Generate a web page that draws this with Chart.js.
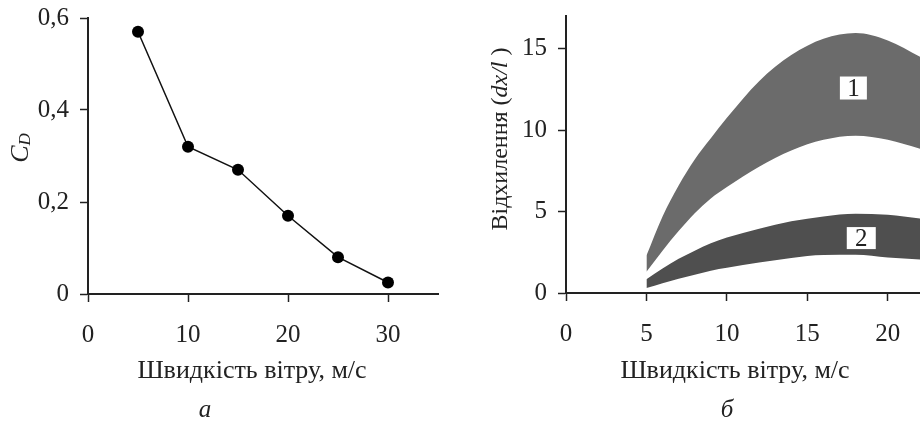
<!DOCTYPE html>
<html>
<head>
<meta charset="utf-8">
<script src="https://cdn.jsdelivr.net/npm/chart.js@4.4.1/dist/chart.umd.min.js"></script>
<style>
  html, body { margin: 0; padding: 0; background: #fff; overflow: hidden; }
  #wrap { position: relative; width: 920px; height: 421px; }
  canvas { position: absolute; top: 0; }
  #dragChart { left: 0; }
  #deflChart { left: 460px; }
</style>
</head>
<body>
<div id="wrap">
  <canvas id="dragChart" width="460" height="421"></canvas>
  <canvas id="deflChart" width="460" height="421"></canvas>
</div>
<script>
// chart "а": drag coefficient vs wind speed
const speedA = [5, 10, 15, 20, 25, 30];
const dragCoef = [0.57, 0.32, 0.27, 0.17, 0.08, 0.025];

// chart "б": deflection bands vs wind speed
const speedB = [5, 6, 7, 8, 9, 10, 12, 14, 16, 18, 20, 22];
const band1Upper = [2.3, 4.7, 6.6, 8.2, 9.5, 10.75, 13.0, 14.6, 15.6, 15.95, 15.5, 14.5];
const band1Lower = [1.3, 2.6, 3.8, 4.9, 5.8, 6.5, 7.75, 8.75, 9.4, 9.65, 9.4, 8.85];
const band2Upper = [0.85, 1.5, 2.1, 2.6, 3.05, 3.4, 3.95, 4.4, 4.7, 4.86, 4.8, 4.57];
const band2Lower = [0.3, 0.6, 0.88, 1.12, 1.37, 1.55, 1.87, 2.15, 2.33, 2.34, 2.18, 2.06];

const xTicksA = [0, 10, 20, 30];
const yTicksA = [0, 0.2, 0.4, 0.6];
const xTicksB = [0, 5, 10, 15, 20];
const yTicksB = [0, 5, 10, 15];

const xTitle = 'Швидкість вітру, м/с';
const bandLabels = [
  { text: '1', x: 17.86, y: 12.58, w: 27, h: 23 },
  { text: '2', x: 18.35, y: 3.37, w: 29, h: 22 }
];

const FONT = "'Liberation Serif', 'Times New Roman', serif";
const INK = '#222';

Chart.defaults.font.family = FONT;
Chart.defaults.font.size = 25;
Chart.defaults.color = INK;

const toPoints = (xs, ys) => xs.map((x, i) => ({ x: x, y: ys[i] }));

// axis look shared by both charts: only ticks, no grid lines
function axis(extra) {
  return Object.assign({
    type: 'linear',
    border: { display: true, color: INK, width: 2 },
    grid: { display: true, drawOnChartArea: false, drawTicks: true, tickLength: 8, tickWidth: 1.5, tickColor: INK },
  }, extra);
}

// keep the plot area exactly where layout.padding puts it
function noPad(s) {
  s.paddingTop = 0; s.paddingBottom = 0; s.paddingLeft = 0; s.paddingRight = 0;
}

// draws text runs (possibly mixed fonts) centred at a point, optionally rotated
function drawRuns(ctx, runs, cx, cy, rotate, baseline) {
  ctx.save();
  ctx.translate(cx, cy);
  if (rotate) ctx.rotate(-Math.PI / 2);
  ctx.fillStyle = INK;
  ctx.textAlign = 'left';
  ctx.textBaseline = baseline || 'middle';
  let total = 0;
  runs.forEach(r => { ctx.font = r.font; r.w = ctx.measureText(r.text).width; total += r.w; });
  let x = -total / 2;
  runs.forEach(r => {
    ctx.font = r.font;
    ctx.fillText(r.text, x, r.dy || 0);
    x += r.w;
  });
  ctx.restore();
}

const textA = {
  id: 'textA',
  afterDraw(chart) {
    const ctx = chart.ctx;
    drawRuns(ctx, [{ text: xTitle, font: '26px ' + FONT }], 252, 378, false, 'alphabetic');
    drawRuns(ctx, [{ text: 'а', font: 'italic 25px ' + FONT }], 205, 417, false, 'alphabetic');
    drawRuns(ctx, [
      { text: 'C', font: 'italic 26px ' + FONT },
      { text: 'D', font: 'italic 17px ' + FONT, dy: 5 }
    ], 21, 148, true);
  }
};

const textB = {
  id: 'textB',
  afterDatasetsDraw(chart) {
    const ctx = chart.ctx;
    const xs = chart.scales.x, ys = chart.scales.y;
    bandLabels.forEach(b => {
      const px = xs.getPixelForValue(b.x), py = ys.getPixelForValue(b.y);
      ctx.save();
      ctx.fillStyle = '#fff';
      ctx.fillRect(px - b.w / 2, py - b.h / 2, b.w, b.h);
      ctx.fillStyle = INK;
      ctx.font = '25px ' + FONT;
      ctx.textAlign = 'center';
      ctx.textBaseline = 'middle';
      ctx.fillText(b.text, px, py + 1);
      ctx.restore();
    });
  },
  afterDraw(chart) {
    const ctx = chart.ctx;
    drawRuns(ctx, [{ text: xTitle, font: '26px ' + FONT }], 275, 378, false, 'alphabetic');
    drawRuns(ctx, [{ text: 'б', font: 'italic 25px ' + FONT }], 267, 417, false, 'alphabetic');
    drawRuns(ctx, [
      { text: 'Відхилення (', font: '24px ' + FONT },
      { text: 'dx/l', font: 'italic 24px ' + FONT },
      { text: ' )', font: '24px ' + FONT }
    ], 41, 139, true);
  }
};

new Chart(document.getElementById('dragChart'), {
  type: 'scatter',
  data: {
    datasets: [{
      data: toPoints(speedA, dragCoef),
      showLine: true,
      borderColor: '#111',
      borderWidth: 1.5,
      pointRadius: 6,
      pointBackgroundColor: '#000',
      pointBorderColor: '#000',
      pointBorderWidth: 0
    }]
  },
  options: {
    responsive: false,
    animation: false,
    devicePixelRatio: 1,
    layout: { padding: { top: 18, right: 22, left: 0, bottom: 0 } },
    plugins: { legend: { display: false }, tooltip: { enabled: false } },
    scales: {
      x: axis({
        min: 0, max: 35,
        afterBuildTicks: s => { s.ticks = xTicksA.map(v => ({ value: v })); },
        ticks: { padding: 18, maxRotation: 0, callback: v => String(v) },
        afterFit: s => { s.height = 127; noPad(s); }
      }),
      y: axis({
        min: 0, max: 0.6,
        afterBuildTicks: s => { s.ticks = yTicksA.map(v => ({ value: v })); },
        ticks: { padding: 11, callback: v => v === 0 ? '0' : v.toFixed(1).replace('.', ',') },
        afterFit: s => { s.width = 88; noPad(s); }
      })
    }
  },
  plugins: [textA]
});

new Chart(document.getElementById('deflChart'), {
  type: 'scatter',
  data: {
    datasets: [
      { data: toPoints(speedB, band1Upper), fill: '+1', backgroundColor: '#6b6b6b' },
      { data: toPoints(speedB, band1Lower), fill: false },
      { data: toPoints(speedB, band2Upper), fill: '+1', backgroundColor: '#4f4f4f' },
      { data: toPoints(speedB, band2Lower), fill: false }
    ].map(d => Object.assign(d, {
      showLine: true,
      borderWidth: 0,
      borderColor: 'rgba(0,0,0,0)',
      pointRadius: 0,
      cubicInterpolationMode: 'monotone'
    }))
  },
  options: {
    responsive: false,
    animation: false,
    devicePixelRatio: 1,
    layout: { padding: { top: 16, right: 0, left: 0, bottom: 0 } },
    plugins: { legend: { display: false }, tooltip: { enabled: false }, filler: { propagate: false } },
    scales: {
      x: axis({
        min: 0, max: 22,
        afterBuildTicks: s => { s.ticks = xTicksB.map(v => ({ value: v })); },
        ticks: { padding: 18, maxRotation: 0, callback: v => String(v) },
        afterFit: s => { s.height = 128; noPad(s); }
      }),
      y: axis({
        min: 0, max: 17,
        afterBuildTicks: s => { s.ticks = yTicksB.map(v => ({ value: v })); },
        ticks: { padding: 11, callback: v => String(v) },
        afterFit: s => { s.width = 106; noPad(s); }
      })
    }
  },
  plugins: [textB]
});
</script>
</body>
</html>
